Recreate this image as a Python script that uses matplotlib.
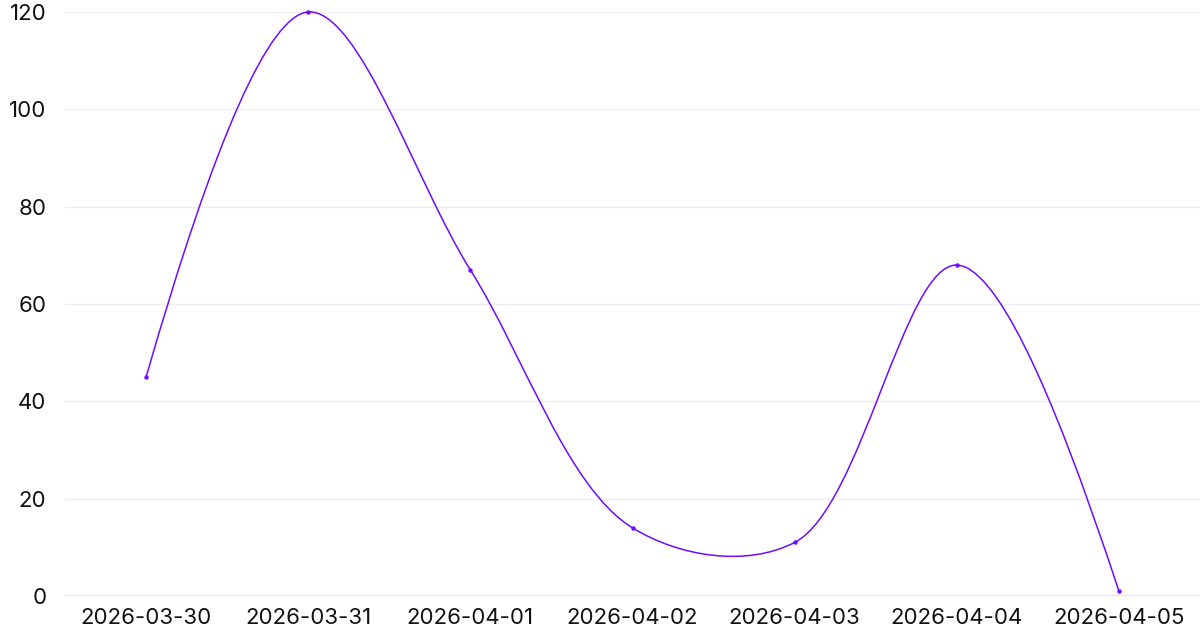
import numpy as np
import matplotlib
matplotlib.use("Agg")
import matplotlib.pyplot as plt
from matplotlib.path import Path
from matplotlib.patches import PathPatch

categories = ["2026-03-30", "2026-03-31", "2026-04-01", "2026-04-02",
              "2026-04-03", "2026-04-04", "2026-04-05"]
values = [45, 120, 67, 14, 11, 68, 1]
y_ticks = [0, 20, 40, 60, 80, 100, 120]

LINE_COLOR = "#6e0cff"
SMOOTHING = 1.0
CR_EXP = 0.5

plt.rcParams['font.family'] = ['Inter', 'DejaVu Sans']

W, H = 1200, 628
fig = plt.figure(figsize=(W / 100, H / 100), dpi=100)
ax = fig.add_axes([65 / W, (H - 596) / H, (1200 - 65) / W, (596 - 12) / H])
x = np.arange(len(categories))
ax.set_xlim(-0.5, len(categories) - 0.5)
ax.set_ylim(0, 120)

ax.set_yticks(y_ticks)
ax.set_yticklabels([str(v) for v in y_ticks])
ax.set_xticks(x)
ax.set_xticklabels(categories)
ax.tick_params(axis='both', length=0, labelsize=16, colors="#111111")
ax.tick_params(axis='y', pad=13.5)
ax.tick_params(axis='x', pad=8.5)
for s in ax.spines.values():
    s.set_visible(False)
ax.grid(axis='y', color="#efefef", linewidth=1.0)
ax.axhline(0, color="#e2e2e2", linewidth=1.2, zorder=1)
ax.set_axisbelow(True)

# Catmull-Rom style spline (centripetal tangents) in display space
fig.canvas.draw()
trans = ax.transData
pts = trans.transform(np.column_stack([x, values]))


def tangent(p0, p1, p2, smooth):
    d1 = p0 - p1
    d2 = p2 - p1
    d1a = np.hypot(*d1) ** CR_EXP
    d2a = np.hypot(*d2) ** CR_EXP
    num = (d2a * d2a * d1 - d1a * d1a * d2) * smooth
    den1 = 3 * d2a * (d1a + d2a)
    den2 = 3 * d1a * (d1a + d2a)
    return p1 + num / den1, p1 - num / den2


n = len(pts)
tans = [tangent(pts[i - 1], pts[i], pts[i + 1], SMOOTHING) for i in range(1, n - 1)]
verts = [pts[0], tans[0][0], pts[1]]
codes = [Path.MOVETO, Path.CURVE3, Path.CURVE3]
for i in range(2, n - 1):
    verts += [tans[i - 2][1], tans[i - 1][0], pts[i]]
    codes += [Path.CURVE4] * 3
verts += [tans[n - 3][1], pts[n - 1]]
codes += [Path.CURVE3, Path.CURVE3]
verts = trans.inverted().transform(np.array(verts))
path = Path(verts, codes)
ax.add_patch(PathPatch(path, facecolor='none', edgecolor=LINE_COLOR,
                       linewidth=1.1, clip_on=False, zorder=3))
ax.plot(x, values, linestyle='none', marker='o', markersize=2.2,
        color=LINE_COLOR, zorder=4, clip_on=False)

fig.savefig("out.png", dpi=100)
